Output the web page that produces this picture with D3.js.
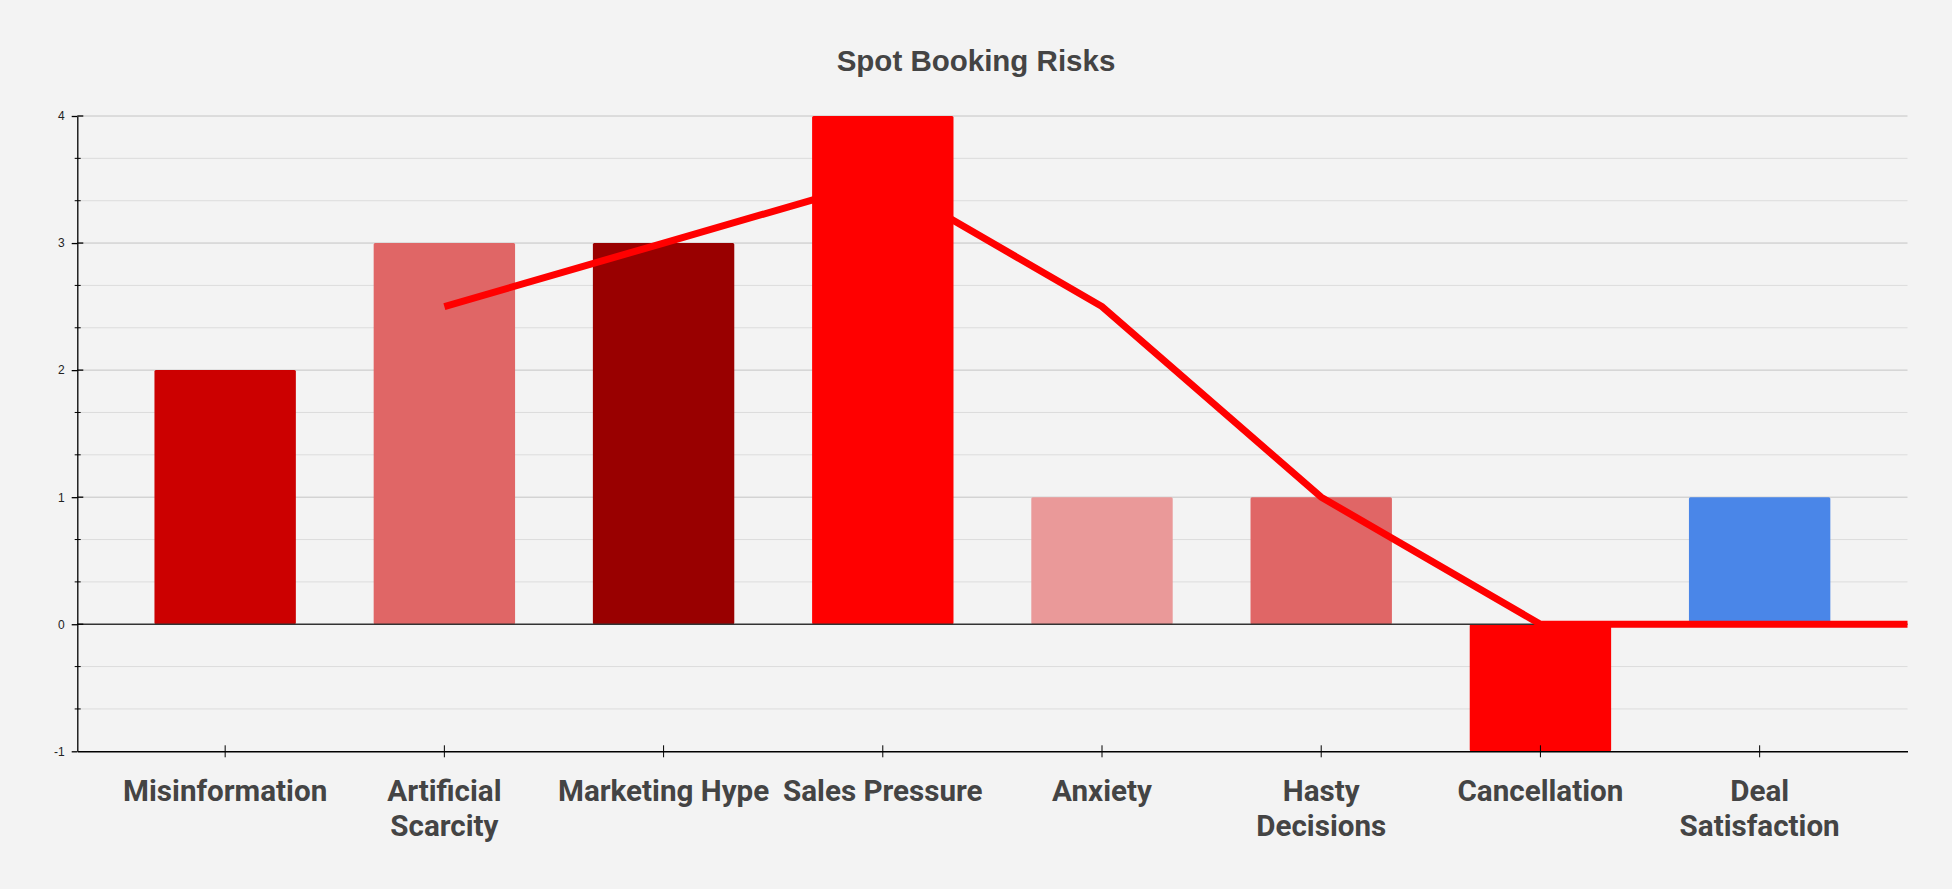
<!DOCTYPE html>
<html>
<head>
<meta charset="utf-8">
<script src="https://cdn.jsdelivr.net/npm/d3@7"></script>
<style>
  html, body { margin: 0; padding: 0; background: #f3f3f3; }
  svg { display: block; }
</style>
</head>
<body>
<svg id="chart" width="1952" height="889"></svg>
<script>
// ---- data ----
const title = "Spot Booking Risks";
const categories = ["Misinformation", "Artificial Scarcity", "Marketing Hype", "Sales Pressure",
                    "Anxiety", "Hasty Decisions", "Cancellation", "Deal Satisfaction"];
const tickLabelLines = [["Misinformation"], ["Artificial", "Scarcity"], ["Marketing Hype"], ["Sales Pressure"],
                        ["Anxiety"], ["Hasty", "Decisions"], ["Cancellation"], ["Deal", "Satisfaction"]];
const barValues = [2, 3, 3, 4, 1, 1, -1, 1];
const barColors = ["#cc0000", "#e06666", "#990000", "#ff0000", "#ea9999", "#e06666", "#ff0000", "#4a86e8"];
const lineValues = [null, 2.5, 3, 3.5, 2.5, 1, 0, 0];
const yTickValues = [-1, 0, 1, 2, 3, 4];
const yDomain = [-1, 4];

// ---- layout ----
const W = 1952, H = 889;
const plot = { left: 77.3, right: 1907.5, top: 116, bottom: 751.3 };

const svg = d3.select("#chart");
svg.append("rect").attr("width", W).attr("height", H).attr("fill", "#f3f3f3");

const x = d3.scaleBand().domain(categories).range([plot.left, plot.right])
  .paddingInner(0.355).paddingOuter(0.352);
const y = d3.scaleLinear().domain(yDomain).range([plot.bottom, plot.top]);

// minor ticks (thirds)
const minorTicks = d3.range(yDomain[0] * 3, yDomain[1] * 3 + 1).map(v => v / 3)
  .filter(v => Math.abs(v - Math.round(v)) > 1e-6);

// gridlines
const grid = svg.append("g");
grid.selectAll("line.minor").data(minorTicks).join("line")
  .attr("x1", plot.left).attr("x2", plot.right)
  .attr("y1", d => y(d)).attr("y2", d => y(d))
  .attr("stroke", "#dcdcdc").attr("stroke-width", 1);
grid.selectAll("line.major").data(yTickValues.filter(v => v !== 0 && v !== yDomain[0])).join("line")
  .attr("x1", plot.left).attr("x2", plot.right)
  .attr("y1", d => y(d)).attr("y2", d => y(d))
  .attr("stroke", "#c4c4c4").attr("stroke-width", 1);

// bars
svg.append("g").selectAll("rect").data(categories).join("rect")
  .attr("x", d => x(d))
  .attr("width", x.bandwidth())
  .attr("y", (d, i) => y(Math.max(0, barValues[i])))
  .attr("height", (d, i) => Math.abs(y(barValues[i]) - y(0)))
  .attr("rx", 1.5)
  .attr("fill", (d, i) => barColors[i]);

// zero baseline
svg.append("line")
  .attr("x1", plot.left).attr("x2", plot.right)
  .attr("y1", y(0)).attr("y2", y(0))
  .attr("stroke", "#333").attr("stroke-width", 1.3);

// line series
const linePts = categories.map((c, i) => ({ x: x(c) + x.bandwidth() / 2, v: lineValues[i] }))
  .filter(p => p.v !== null);
linePts.push({ x: x.range()[1], v: linePts[linePts.length - 1].v });
svg.append("path")
  .datum(linePts)
  .attr("d", d3.line().x(p => p.x).y(p => y(p.v)))
  .attr("fill", "none")
  .attr("stroke", "#ff0000")
  .attr("stroke-width", 7)
  .attr("stroke-linejoin", "miter");

// y axis
const yAxis = svg.append("g").attr("transform", `translate(${plot.left},0)`)
  .call(d3.axisLeft(y).tickValues(yTickValues).tickSizeInner(5.6).tickSizeOuter(0).tickPadding(7)
    .tickFormat(d => String(d)));
yAxis.select(".domain").attr("stroke", "#000").attr("stroke-width", 1.3);
yAxis.selectAll(".tick line").attr("stroke", "#000").attr("stroke-width", 1.3);
yAxis.selectAll(".tick text")
  .attr("font-family", "'Liberation Sans', Arial, sans-serif")
  .attr("font-size", 12).attr("fill", "#222");
// inner part of major ticks
yAxis.selectAll("line.inner").data(yTickValues.filter(v => v !== yDomain[0])).join("line")
  .attr("x1", 0).attr("x2", 6).attr("y1", d => y(d)).attr("y2", d => y(d))
  .attr("stroke", "#000").attr("stroke-width", 1.3);
// minor ticks
yAxis.selectAll("line.minortick").data(minorTicks).join("line")
  .attr("x1", -2.6).attr("x2", 3.4).attr("y1", d => y(d)).attr("y2", d => y(d))
  .attr("stroke", "#000").attr("stroke-width", 1);

// x axis
const xAxis = svg.append("g").attr("transform", `translate(0,${plot.bottom})`)
  .call(d3.axisBottom(x).tickSizeInner(6).tickSizeOuter(0).tickFormat(""));
xAxis.select(".domain").attr("stroke", "#000").attr("stroke-width", 1.5);
xAxis.selectAll(".tick line").attr("stroke", "#000").attr("stroke-width", 1)
  .attr("y1", -6).attr("y2", 6);
xAxis.selectAll(".tick text").remove();
xAxis.selectAll(".tick").each(function (d, i) {
  const t = d3.select(this).append("text")
    .attr("text-anchor", "middle")
    .attr("font-family", "Roboto, sans-serif")
    .attr("font-weight", "bold")
    .attr("font-size", 29.6)
    .attr("fill", "#444");
  tickLabelLines[i].forEach((ln, k) => {
    t.append("tspan").attr("x", 0).attr("y", 49.5 + k * 34.8).text(ln);
  });
});

// title
svg.append("text")
  .attr("x", W / 2).attr("y", 71)
  .attr("text-anchor", "middle")
  .attr("font-family", "'Liberation Sans', Arial, sans-serif")
  .attr("font-weight", "bold")
  .attr("font-size", 29.5)
  .attr("fill", "#444")
  .text(title);
</script>
</body>
</html>
